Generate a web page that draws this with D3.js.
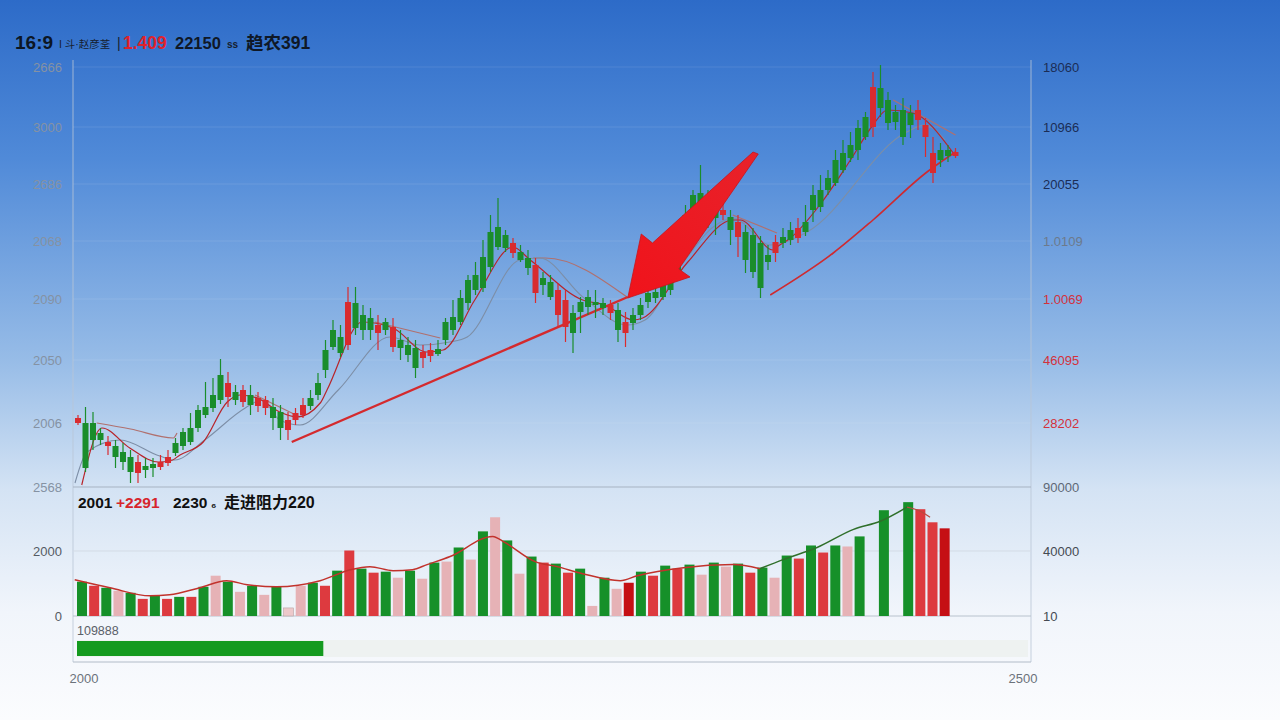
<!DOCTYPE html>
<html><head><meta charset="utf-8">
<script src="https://cdn.jsdelivr.net/npm/d3@7"></script>
<style>body{margin:0;overflow:hidden;background:#fff}svg{display:block}</style>
</head><body>
<svg id="c" width="1280" height="720"></svg>
<script>
// ---------------- DATA ----------------
const opens=[2064,2064,2064,2054,2041,2041,2035,2030,2014,2021,
2023,2020,2024,2044,2055,2059,2077,2080,2092,2112,
2090,2095,2085,2092,2081,2079,2080,2075,2057,2067,
2072,2089,2104,2137,2157,2150,2142,2184,2172,2169,
2154,2165,2140,2147,2142,2139,2129,2131,2138,2165,
2170,2189,2207,2212,2230,2255,2260,2252,2234,2235,
2229,2194,2209,2205,2172,2160,2174,2185,2190,2185,
2184,2174,2177,2154,2172,2182,2194,2195,2202,2209,
2237,2272,2292,2294,2289,2282,2272,2270,2250,2255,
2252,2244,2232,2234,2250,2257,2249,2265,2292,2297,
2309,2327,2334,2342,2359,2370,2360,2399,2387,2375,
2377,2374,2367,2350,2314,2337,2337,2331];
const highs=[2072,2080,2075,2059,2051,2047,2044,2037,2032,2029,
2029,2032,2037,2049,2059,2074,2082,2105,2109,2128,
2115,2102,2102,2102,2095,2091,2089,2082,2075,2079,
2089,2097,2114,2147,2167,2162,2200,2200,2182,2179,
2172,2169,2169,2157,2150,2147,2142,2144,2147,2169,
2187,2197,2212,2225,2247,2272,2289,2257,2249,2242,
2237,2229,2215,2212,2204,2197,2182,2190,2197,2197,
2189,2187,2184,2175,2179,2189,2202,2204,2209,2217,
2247,2282,2297,2322,2297,2289,2284,2277,2272,2262,
2259,2251,2242,2252,2259,2265,2269,2282,2302,2312,
2317,2337,2347,2355,2367,2375,2415,2422,2395,2382,
2389,2382,2387,2369,2350,2344,2342,2339];
const lows=[2062,2015,2037,2042,2032,2019,2017,2004,2004,2009,
2010,2017,2021,2031,2037,2042,2055,2069,2075,2083,
2080,2082,2080,2072,2075,2072,2057,2047,2047,2062,
2069,2077,2087,2109,2137,2130,2137,2152,2147,2147,
2137,2152,2135,2127,2125,2109,2119,2125,2131,2142,
2152,2162,2177,2192,2195,2215,2237,2235,2229,2225,
2212,2184,2192,2187,2159,2145,2134,2154,2172,2169,
2172,2167,2145,2140,2157,2167,2179,2184,2187,2192,
2207,2239,2267,2274,2259,2252,2267,2242,2230,2214,
2209,2189,2217,2225,2239,2242,2244,2251,2265,2275,
2292,2301,2314,2325,2327,2347,2350,2370,2357,2357,
2342,2349,2357,2330,2304,2320,2325,2329];
const closes=[2069,2019,2047,2047,2045,2030,2025,2015,2025,2017,
2019,2025,2030,2034,2041,2045,2059,2072,2079,2087,
2104,2087,2097,2082,2089,2087,2069,2059,2067,2074,
2082,2081,2092,2117,2140,2134,2185,2159,2157,2157,
2162,2157,2160,2139,2132,2119,2135,2137,2133,2147,
2157,2165,2184,2197,2199,2220,2240,2239,2244,2227,
2219,2222,2202,2190,2197,2187,2154,2175,2180,2182,
2179,2182,2157,2165,2164,2172,2185,2189,2190,2197,
2212,2247,2272,2280,2272,2269,2277,2257,2265,2227,
2215,2199,2225,2245,2244,2247,2259,2255,2277,2280,
2297,2304,2317,2329,2337,2350,2400,2379,2364,2365,
2350,2362,2377,2362,2334,2327,2331,2335];

// moving-average style lines: [candle index, price]
const maRed=[[0.5,2002],[3.2,2059],[6.9,2039],[10.7,2025],[12.3,2026],[13.6,2032],[16.7,2045],[19.9,2085],[21.6,2092],[23.9,2089],[26.9,2075],[29.2,2070],[32.3,2084],[33.2,2097],[37.9,2165],[42,2159],[46.5,2135],[48.7,2137],[52.9,2187],[58,2240],[60.3,2227],[67.3,2187],[70.3,2182],[74,2167],[75.3,2169],[81.2,2224],[87.3,2267],[88.3,2267],[92.7,2237],[93.2,2240],[95,2249],[98.9,2282],[103,2327],[106,2362],[107.9,2377],[111.3,2374],[116.7,2334]];
const maGray=[[-0.4,2004],[1.2,2035],[5.6,2047],[10.9,2031],[12.9,2027],[16.9,2047],[22.3,2079],[24.5,2087],[26.9,2067],[29.6,2062],[34.7,2097],[41.6,2150],[45.6,2142],[49.6,2145],[51.9,2150],[58.9,2227],[61.6,2229],[67.3,2190],[73.2,2162],[75.6,2167],[80.3,2220],[84.7,2260],[87.3,2269],[92.3,2242],[97.2,2255],[110.5,2355],[112.9,2362],[115.6,2347]];
const envLines=[
 [[2.5,2064],[7,2058],[12.7,2049],[13.2,2054]],
 [[23.6,2092],[29.6,2070]],
 [[39.6,2165],[48.3,2149]],
 [[60.7,2229],[62.3,2229],[73.2,2190]],
 [[87.3,2272],[93.2,2254]],
 [[108.7,2387],[117,2352]]
];
const trend1=[[28.5,2045],[73.3,2190]];
const trend2=[[92.3,2192],[100.7,2234],[106,2267],[113.2,2315],[117,2335]];
const arrowPts=[[90.7,2333],[80.1,2218],[81.6,2210],[73.3,2189],[75.1,2253],[76.6,2244],[90.0,2335]];

// axis ticks
const leftTickVals=[2420,2360,2303,2246,2188,2127,2064,2000];
const leftTickLabels=["2666","3000","2686","2068","2090","2050","2006","2568"];
const rightTickLabels=["18060","10966","20055","1.0109","1.0069","46095","28202","90000"];
const rightTickColors=["#1b2d55","#1b2d55","#1b2d55","#6c7a8c","#d4313b","#d4313b","#d4313b","#5e6876"];

// volume
const volumes=[1054,930,868,775,713,527,620,527,589,589,
899,1240,1054,744,930,651,899,248,930,1023,
930,1395,2015,1457,1333,1364,1178,1395,1147,1643,
1674,2108,1736,2604,3038,2325,1302,1829,1643,1612,
1333,1457,310,1178,837,1023,1364,1240,1550,1457,
1581,1271,1643,1519,1612,1333,1488,1178,1860,1767,
2170,1953,2170,2139,2449,null,3255,null,3503,3286,
2883,2697];
const volColors=["g","r","g","p","g","r","g","r","g","r",
"g","p","g","p","g","p","g","l","p","g",
"r","g","r","g","r","g","p","g","p","g",
"p","g","p","g","p","g","p","g","r","g",
"r","g","p","g","p","d","g","r","g","r",
"g","p","g","p","g","r","g","p","g","r",
"g","r","g","p","g","-","g","-","g","r",
"r","d"];
const volMA=[[-0.6,1116],[2.3,868],[5.6,620],[7.2,651],[9.7,868],[11.9,1085],[13.6,961],[16,899],[19.6,1085],[22.1,1426],[23.7,1519],[25.6,1395],[27.2,1426],[28.4,1581],[30.3,1829],[33.8,2449],[34.8,2263],[37.3,1674],[39.1,1519],[41.2,1302],[44.3,1085],[45.7,1240],[49.5,1488],[53.6,1581],[55.8,1457],[57.7,1736],[60.5,2108],[63.5,2666],[65.7,2914],[67.9,3348],[69,3224],[69.8,3038]];
const volLeftTicks=[0,2000], volLeftLabels=["0","2000"];
const volRightLabels=["10","40000"];
const progressValue=0.259, progressLabel="109888";
const xLabels=["2000","2500"];

// ---------------- DRAW ----------------
const W=1280,H=720;
const svg=d3.select("#c");
const defs=svg.append("defs");
const bg=defs.append("linearGradient").attr("id","bg").attr("x1",0).attr("y1",0).attr("x2",0).attr("y2",1);
[[0,"#2d6bc8"],[0.22,"#508ad8"],[0.5,"#97bce7"],[0.68,"#d4e3f4"],[0.85,"#f1f5fb"],[1,"#fbfcfe"]]
 .forEach(s=>bg.append("stop").attr("offset",s[0]).attr("stop-color",s[1]));
svg.append("rect").attr("width",W).attr("height",H).attr("fill","url(#bg)");

const FONT="'Liberation Sans', Arial, 'Noto Sans CJK SC', sans-serif";
const x=d3.scaleLinear().domain([0,117]).range([78,955.5]);
const y=d3.scaleLinear().domain([2000,2420]).range([487,67]);
const xv=d3.scaleLinear().domain([0,72]).range([77,77+72*12.15]);
const yv=d3.scaleLinear().domain([0,2000]).range([616,551]);
const L=73,R=1031;

// grid
svg.append("g").selectAll("line").data(leftTickVals.slice(0,7)).join("line")
 .attr("x1",L).attr("x2",R).attr("y1",d=>y(d)).attr("y2",d=>y(d))
 .attr("stroke","#ffffff").attr("stroke-opacity",0.1);
// frame
const fr=svg.append("g").attr("fill","none");
fr.append("line").attr("x1",L).attr("x2",L).attr("y1",60).attr("y2",662).attr("stroke","#b9c6d6").attr("stroke-opacity",0.8);
fr.append("line").attr("x1",R).attr("x2",R).attr("y1",60).attr("y2",662).attr("stroke","#b9c6d6").attr("stroke-opacity",0.8);
fr.append("line").attr("x1",L).attr("x2",R).attr("y1",y(2000)).attr("y2",y(2000)).attr("stroke","#a7b3c2");
fr.append("line").attr("x1",L).attr("x2",R).attr("y1",yv(2000)).attr("y2",yv(2000)).attr("stroke","#d3dbe5");
fr.append("line").attr("x1",L).attr("x2",R).attr("y1",yv(0)).attr("y2",yv(0)).attr("stroke","#b8c2cd");
fr.append("line").attr("x1",L).attr("x2",R).attr("y1",662).attr("y2",662).attr("stroke","#b2bcc8");

// axes
const axL=svg.append("g").attr("transform","translate(62,0)")
 .call(d3.axisLeft(y).tickValues(leftTickVals).tickFormat((d,i)=>leftTickLabels[i]).tickSize(0).tickPadding(0));
axL.select(".domain").remove();
axL.selectAll("text").attr("fill","#8592a3").style("font-family",FONT).style("font-size","13px");
const axR=svg.append("g").attr("transform","translate(1043,0)")
 .call(d3.axisRight(y).tickValues(leftTickVals).tickFormat((d,i)=>rightTickLabels[i]).tickSize(0).tickPadding(0));
axR.select(".domain").remove();
axR.selectAll("text").attr("fill",(d,i)=>rightTickColors[i]).style("font-family",FONT).style("font-size","13px");
const avL=svg.append("g").attr("transform","translate(62,0)")
 .call(d3.axisLeft(yv).tickValues(volLeftTicks).tickFormat((d,i)=>volLeftLabels[i]).tickSize(0).tickPadding(0));
avL.select(".domain").remove();
avL.selectAll("text").attr("fill","#555b63").style("font-family",FONT).style("font-size","13px");
const avR=svg.append("g").attr("transform","translate(1043,0)")
 .call(d3.axisRight(yv).tickValues(volLeftTicks).tickFormat((d,i)=>volRightLabels[i]).tickSize(0).tickPadding(0));
avR.select(".domain").remove();
avR.selectAll("text").attr("fill","#444a52").style("font-family",FONT).style("font-size","13px");
// x labels
const xl=d3.scaleLinear().domain([0,1]).range([84,1023]);
svg.append("g").selectAll("text").data(xLabels).join("text")
 .attr("x",(d,i)=>xl(i)).attr("y",683).attr("text-anchor","middle")
 .attr("fill","#6b727b").style("font-family",FONT).style("font-size","13px").text(d=>d);

// lines
const ln=d3.line().x(d=>x(d[0])).y(d=>y(d[1])).curve(d3.curveMonotoneX);
envLines.forEach(s=>svg.append("path").attr("d",ln(s)).attr("fill","none").attr("stroke","#b0706e").attr("stroke-width",1.2));
svg.append("path").attr("d",ln(maGray)).attr("fill","none").attr("stroke","#7d8ea6").attr("stroke-width",1.1);
svg.append("path").attr("d",ln(maRed)).attr("fill","none").attr("stroke","#b8242a").attr("stroke-width",1.2);
svg.append("path").attr("d",d3.line().x(d=>x(d[0])).y(d=>y(d[1]))(trend1)).attr("fill","none").attr("stroke","#d42a2e").attr("stroke-width",2.4);
svg.append("path").attr("d",ln(trend2)).attr("fill","none").attr("stroke","#cf2a30").attr("stroke-width",1.6);

// candles
const GREEN="#1a8d2b",RED="#d92b2f";
const cg=svg.append("g");
const idx=d3.range(opens.length);
cg.selectAll("line").data(idx).join("line")
 .attr("x1",i=>x(i)).attr("x2",i=>x(i)).attr("y1",i=>y(highs[i])).attr("y2",i=>y(lows[i]))
 .attr("stroke",i=>closes[i]>opens[i]?RED:GREEN).attr("stroke-width",1.2);
cg.selectAll("rect").data(idx).join("rect")
 .attr("x",i=>x(i)-3).attr("width",6)
 .attr("y",i=>y(Math.max(opens[i],closes[i])))
 .attr("height",i=>Math.max(1.5,Math.abs(y(opens[i])-y(closes[i]))))
 .attr("fill",i=>closes[i]>opens[i]?RED:GREEN);

// arrow
const ag=defs.append("linearGradient").attr("id","ag").attr("x1",1).attr("y1",0).attr("x2",0).attr("y2",1);
ag.append("stop").attr("offset",0).attr("stop-color","#e8222a");
ag.append("stop").attr("offset",1).attr("stop-color","#f0131b");
svg.append("path").attr("d",d3.line().x(d=>x(d[0])).y(d=>y(d[1]))(arrowPts)+"Z")
 .attr("fill","url(#ag)").attr("stroke","#c8141a").attr("stroke-width",0.8).attr("stroke-linejoin","round");

// volume bars
const vcol={g:"#169029",r:"#dd3a3f",p:"#e6b2b6",d:"#c50f14",l:"#edc9cb"};
const vb=svg.append("g");
vb.selectAll("rect").data(d3.range(volumes.length).filter(j=>volumes[j]!=null)).join("rect")
 .attr("x",j=>xv(j)).attr("width",10)
 .attr("y",j=>yv(volumes[j])).attr("height",j=>yv(0)-yv(volumes[j]))
 .attr("fill",j=>vcol[volColors[j]])
 .attr("stroke",j=>volColors[j]==="l"?"#b8a3a5":"none").attr("stroke-width",0.6);
const vl=d3.line().x(d=>xv(d[0])+5).y(d=>yv(d[1])).curve(d3.curveMonotoneX);
const seg1=volMA.filter(d=>d[0]<=55.8), seg2=volMA.filter(d=>d[0]>=55.8&&d[0]<=67.9), seg3=volMA.filter(d=>d[0]>=67.9);
svg.append("path").attr("d",vl(seg1)).attr("fill","none").attr("stroke","#c2322c").attr("stroke-width",1.5);
svg.append("path").attr("d",vl(seg2)).attr("fill","none").attr("stroke","#2f6f2a").attr("stroke-width",1.5);
svg.append("path").attr("d",vl(seg3)).attr("fill","none").attr("stroke","#b84a40").attr("stroke-width",1.2);

// progress
const xp=d3.scaleLinear().domain([0,1]).range([77,1028]);
svg.append("rect").attr("x",xp(0)).attr("y",640).attr("width",xp(1)-xp(0)).attr("height",17).attr("fill","#eef2f1");
svg.append("rect").attr("x",xp(0)).attr("y",641).attr("width",xp(progressValue)-xp(0)).attr("height",15).attr("fill","#149a1f");
svg.append("text").attr("x",77).attr("y",635).attr("fill","#5a6068").style("font-family",FONT).style("font-size","12.5px").text(progressLabel);

// header
function t(xx,yy,str,size,color,weight){
 return svg.append("text").attr("x",xx).attr("y",yy).attr("fill",color)
  .style("font-family",FONT).style("font-size",size+"px").style("font-weight",weight||"normal").text(str);
}
t(15,49,"16:9",19,"#0c1624","bold");
t(59,48,"I 斗·赵彦荃",10.5,"#16202e","normal");
t(117,48,"|",14,"#16202e","normal");
t(123,49,"1.409",17.5,"#e0222b","bold");
t(175,49,"22150",16.5,"#0f1826","bold");
t(227,48,"ss",10,"#16202e","bold");
t(246,49,"趋农391",17.5,"#0f1826","bold");

t(78,508,"2001",15.5,"#101010","bold");
t(116,508,"+2291",15.5,"#d6242c","bold");
t(173,508,"2230",15.5,"#101010","bold");
t(211,508,"₆",12,"#101010","bold");
t(224,508,"走进阻力220",16,"#101010","bold");
</script>
</body></html>
